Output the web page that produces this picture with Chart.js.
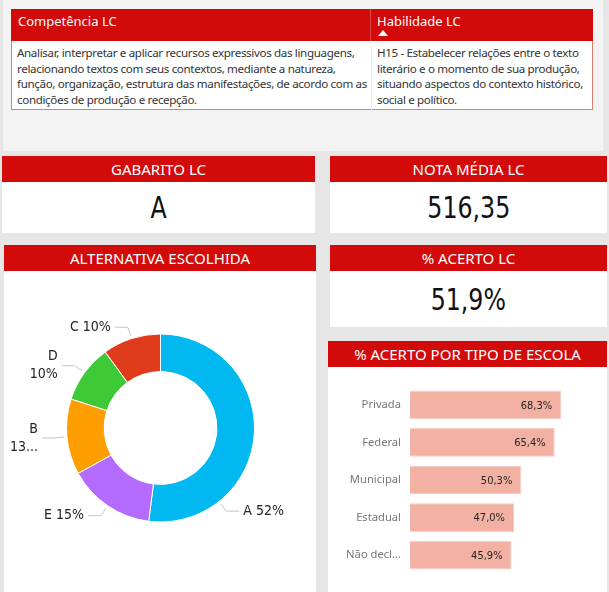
<!DOCTYPE html>
<html lang="pt-BR">
<head>
<meta charset="utf-8">
<script src="https://cdn.jsdelivr.net/npm/chart.js@4.4.1/dist/chart.umd.min.js"></script>
<style>
  html, body { margin: 0; padding: 0; }
  body {
    width: 609px; height: 592px; position: relative; overflow: hidden;
    background: #e6e6e6; font-family: "Noto Sans", "Open Sans", sans-serif;
  }
  .abs { position: absolute; }
  .topo { left: 3px; top: 0; width: 600px; height: 151px; background: #f3f3f3; }
  .tabela { left: 11px; top: 9px; width: 582px; }
  .tab-cab { height: 32px; background: #d30a0a; color: #fff; font-size: 13px; position: relative; }
  .tab-cab span { position: absolute; top: 3px; }
  .seta { position: absolute; left: 367px; top: 21px; width: 0; height: 0;
    border-left: 5px solid transparent; border-right: 5px solid transparent; border-bottom: 6px solid #fff; }
  .tab-corpo { height: 68px; background: #fff; border: 1px solid #d98170; border-top: none; position: relative;
    font-size: 11.6px; letter-spacing: -0.35px; line-height: 15.7px; color: #333; white-space: nowrap; }
  .tab-corpo div { position: absolute; top: 4px; }
  .sep { position: absolute; left: 359px; top: 0; width: 1px; }
  .card-cab { background: #d30a0a; color: #fff; font-size: 15px; text-align: center; height: 26px; line-height: 26px; }
  .card-corpo { background: #fff; text-align: center; color: #111; font-family: "DejaVu Sans Condensed", Roboto, sans-serif; font-size: 31px; }
  .card-corpo span { display: inline-block; transform: scaleX(0.85); }
</style>
</head>
<body>
<div class="abs topo"></div>
<div class="abs tabela">
  <div class="tab-cab">
    <span style="left:7px">Competência LC</span>
    <span style="left:366px">Habilidade LC</span>
    <div class="seta"></div>
    <div class="sep" style="height:32px;background:rgba(255,255,255,0.25)"></div>
  </div>
  <div class="tab-corpo">
    <div style="left:5px">Analisar, interpretar e aplicar recursos expressivos das linguagens,<br>relacionando textos com seus contextos, mediante a natureza,<br>função, organização, estrutura das manifestações, de acordo com as<br>condições de produção e recepção.</div>
    <div style="left:365px">H15 - Estabelecer relações entre o texto<br>literário e o momento de sua produção,<br>situando aspectos do contexto histórico,<br>social e político.</div>
    <div class="sep" style="height:68px;background:#eeeeee"></div>
  </div>
</div>

<div class="abs" style="left:2px;top:156px;width:313px">
  <div class="card-cab">GABARITO LC</div>
  <div class="card-corpo" style="height:51px;line-height:51px"><span>A</span></div>
</div>
<div class="abs" style="left:330px;top:156px;width:277px">
  <div class="card-cab">NOTA MÉDIA LC</div>
  <div class="card-corpo" style="height:51px;line-height:51px"><span>516,35</span></div>
</div>
<div class="abs" style="left:330px;top:245px;width:277px">
  <div class="card-cab">% ACERTO LC</div>
  <div class="card-corpo" style="height:56px;line-height:56px"><span>51,9%</span></div>
</div>

<div class="abs" style="left:4px;top:245px;width:312px;height:347px;background:#fff">
  <div class="card-cab">ALTERNATIVA ESCOLHIDA</div>
  <div style="position:relative;width:312px;height:321px"><canvas id="graficoRosca"></canvas></div>
</div>
<div class="abs" style="left:328px;top:341px;width:279px;height:251px;background:#fff">
  <div class="card-cab">% ACERTO POR TIPO DE ESCOLA</div>
  <div style="position:relative;width:279px;height:225px"><canvas id="graficoBarras"></canvas></div>
</div>

<script>
// alternativas na ordem em que aparecem na rosca (sentido horário a partir do topo)
const alternativas = ["A", "E", "B", "D", "C"];
const percentuais = [52, 15, 13, 10, 10];
const coresAlt = ["#01b8f0", "#b36cff", "#ff9e00", "#3ec937", "#e03b1a"];

const tiposEscola = ["Privada", "Federal", "Municipal", "Estadual", "Não declarado"];
const acertoEscola = [68.3, 65.4, 50.3, 47.0, 45.9];

const fonteRotulo = '14px "DejaVu Sans Condensed", Roboto, sans-serif';

// rótulos com linha de chamada, como no Power BI
const rotulosRosca = {
  id: "rotulosRosca",
  afterDatasetsDraw(chart) {
    const ctx = chart.ctx;
    const meta = chart.getDatasetMeta(0);
    const total = percentuais.reduce((a, b) => a + b, 0);
    const limiteEsq = 20, limiteDir = chart.width - 31;
    ctx.save();
    ctx.font = fonteRotulo;
    ctx.textBaseline = "middle";
    meta.data.forEach((arc, i) => {
      const p = arc.getProps(["x", "y", "startAngle", "endAngle", "outerRadius"], true);
      const texto = alternativas[i] + " " + Math.round(percentuais[i] / total * 100) + "%";
      const larg = ctx.measureText(texto).width;
      let ang = (p.startAngle + p.endAngle) / 2;
      const pos = (a, r) => ({ x: p.x + Math.cos(a) * r, y: p.y + Math.sin(a) * r });
      const dir = Math.cos(ang) >= 0 ? 1 : -1;
      // empurra o rótulo ao longo do arco até caber à direita
      for (let k = 0; k < 90 && dir > 0; k++) {
        const e = pos(ang, p.outerRadius + 12);
        if (e.x + 17 + larg <= limiteDir) break;
        ang += (Math.sin(ang) >= 0 ? 1 : -1) * Math.PI / 180;
      }
      const p0 = pos(ang, p.outerRadius + 3);
      const p1 = pos(ang, p.outerRadius + 12);
      const p2 = { x: p1.x + dir * 13, y: p1.y };
      ctx.strokeStyle = "#c6c6c6";
      ctx.lineWidth = 1;
      ctx.beginPath();
      ctx.moveTo(p0.x, p0.y);
      ctx.lineTo(p1.x, p1.y);
      ctx.lineTo(p2.x, p2.y);
      ctx.stroke();
      ctx.fillStyle = "#252423";
      const tx = p2.x + dir * 4;
      if (dir > 0) {
        ctx.textAlign = "left";
        ctx.fillText(texto, tx, p2.y);
        return;
      }
      ctx.textAlign = "right";
      if (tx - larg >= limiteEsq) {
        ctx.fillText(texto, tx, p2.y);
        return;
      }
      const linhas = texto.split(" ").map(l => {
        if (tx - ctx.measureText(l).width >= limiteEsq) return l;
        let n = l.length - 1, s = l.slice(0, n) + "...";
        while (n > 2 && tx - ctx.measureText(s).width < limiteEsq) { n--; s = l.slice(0, n) + "..."; }
        return s;
      });
      linhas.forEach((l, j) => ctx.fillText(l, tx, p2.y + (j - (linhas.length - 1) / 2) * 18));
    });
    ctx.restore();
  }
};

new Chart(document.getElementById("graficoRosca"), {
  type: "doughnut",
  data: {
    labels: alternativas,
    datasets: [{
      data: percentuais,
      backgroundColor: coresAlt,
      borderColor: "#ffffff",
      borderWidth: 1,
      hoverOffset: 0
    }]
  },
  options: {
    responsive: true,
    maintainAspectRatio: false,
    animation: false,
    cutout: "60%",
    layout: { padding: { left: 62, right: 61, top: 62, bottom: 69 } },
    plugins: { legend: { display: false }, tooltip: { enabled: false } }
  },
  plugins: [rotulosRosca]
});

const rotulosBarras = {
  id: "rotulosBarras",
  afterDatasetsDraw(chart) {
    const ctx = chart.ctx;
    ctx.save();
    ctx.font = '11px "DejaVu Sans Condensed", Roboto, sans-serif';
    ctx.fillStyle = "#252423";
    ctx.textAlign = "right";
    ctx.textBaseline = "middle";
    chart.getDatasetMeta(0).data.forEach((bar, i) => {
      ctx.fillText(acertoEscola[i].toFixed(1).replace(".", ",") + "%", bar.x - 9, bar.y + 1);
    });
    ctx.restore();
  }
};

new Chart(document.getElementById("graficoBarras"), {
  type: "bar",
  data: {
    labels: tiposEscola,
    datasets: [{
      data: acertoEscola,
      backgroundColor: "#f2b1a2",
      borderColor: "#f7cdc3",
      borderWidth: 1,
      barPercentage: 0.76,
      categoryPercentage: 1
    }]
  },
  options: {
    indexAxis: "y",
    responsive: true,
    maintainAspectRatio: false,
    animation: false,
    layout: { padding: { left: 0, right: 20, top: 19, bottom: 18 } },
    scales: {
      x: { display: false, min: 0, max: 80 },
      y: {
        grid: { display: false, drawTicks: false },
        border: { display: false },
        ticks: {
          padding: 9,
          color: "#777777",
          font: { family: '"Noto Sans", "Open Sans", sans-serif', size: 11.2 },
          callback(v) {
            const t = this.getLabelForValue(v);
            return t.length > 10 ? t.slice(0, 8) + "..." : t;
          }
        },
        afterFit(scale) { scale.width = 82; }
      }
    },
    plugins: { legend: { display: false }, tooltip: { enabled: false } }
  },
  plugins: [rotulosBarras]
});
</script>
</body>
</html>
